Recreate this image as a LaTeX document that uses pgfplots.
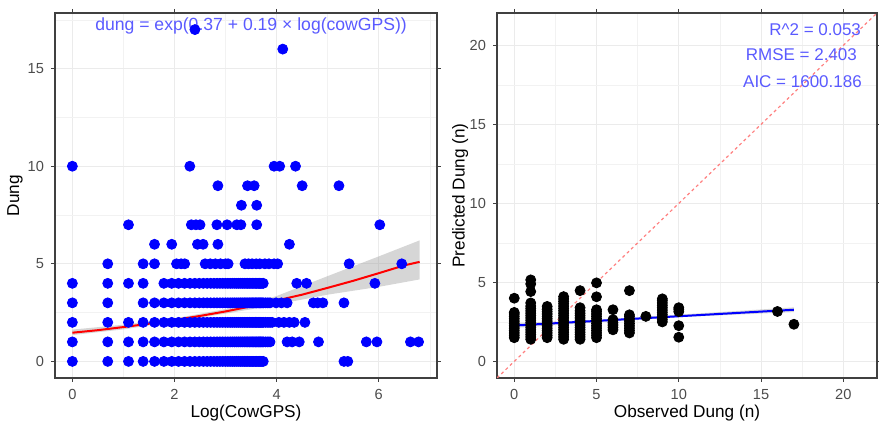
\documentclass[border=0pt]{standalone}
\usepackage{fontspec}
\setmainfont{Liberation Sans}
\usepackage{pgfplots}
\pgfplotsset{compat=1.18}
\definecolor{txtblue}{RGB}{90,90,255}
\definecolor{diag}{RGB}{255,128,128}
\definecolor{band}{RGB}{153,153,153}
\pgfplotsset{
  gg/.style={
    scale only axis,
    axis line style={draw=black!75, line width=0.6pt},
    tick align=outside, major tick length=2pt, minor tick length=0pt,
    tick style={black!75, line width=0.4pt},
    grid=both,
    major grid style={black!8, line width=0.5pt},
    minor grid style={black!5, line width=0.3pt},
    ticklabel style={font=\fontsize{7.3}{8}\selectfont, text=black!70},
    label style={font=\fontsize{8.6}{10}\selectfont},
    /pgf/number format/assume math mode=true,
    height=182.5pt,
  },
  pts/.style={only marks, mark=*, mark size=2.5pt},
}
\begin{document}
\begin{tikzpicture}
\useasboundingbox (-27.5pt,-22.5pt) rectangle (412pt,189pt);
% left panel
\begin{axis}[gg, width=191pt, at={(0pt,0pt)},
  xmin=-0.34, xmax=7.14, ymin=-0.85, ymax=17.85,
  xtick={0,2,4,6}, ytick={0,5,10,15},
  minor xtick={1,3,5,7}, minor ytick={2.5,7.5,12.5,17.5},
  xlabel={Log(CowGPS)}, ylabel={Dung},
  xlabel style={at={(axis description cs:0.5,-0.096)}, anchor=center},
  ylabel style={at={(axis description cs:-0.105,0.5)}, anchor=center},
]
\addplot[pts, blue] coordinates {
 (0,0) (0.693,0) (1.099,0) (1.386,0) (1.609,0) (1.792,0) (1.946,0) (2.079,0) (2.197,0) (2.303,0) (2.398,0) (2.485,0) (2.565,0) (2.639,0) (2.708,0) (2.773,0) (2.833,0) (2.890,0) (2.944,0) (2.996,0) (3.045,0) (3.091,0) (3.135,0) (3.178,0) (3.219,0) (3.258,0) (3.296,0) (3.332,0) (3.367,0) (3.401,0) (3.434,0) (3.466,0) (3.497,0) (3.526,0) (3.555,0) (3.584,0) (3.611,0) (3.638,0) (3.664,0) (3.689,0) (3.714,0) (3.738,0) (5.318,0) (5.394,0)
 (0,1) (0.693,1) (1.099,1) (1.386,1) (1.609,1) (1.792,1) (1.946,1) (2.079,1) (2.197,1) (2.303,1) (2.398,1) (2.485,1) (2.565,1) (2.639,1) (2.708,1) (2.773,1) (2.833,1) (2.890,1) (2.944,1) (2.996,1) (3.045,1) (3.091,1) (3.135,1) (3.178,1) (3.219,1) (3.258,1) (3.296,1) (3.332,1) (3.367,1) (3.401,1) (3.434,1) (3.466,1) (3.497,1) (3.526,1) (3.555,1) (3.584,1) (3.611,1) (3.638,1) (3.664,1) (3.689,1) (3.714,1) (3.738,1) (3.784,1) (3.829,1) (3.871,1) (4.205,1) (4.304,1) (4.443,1) (4.820,1) (5.756,1) (5.964,1) (6.620,1) (6.780,1)
 (0,2) (0.693,2) (1.099,2) (1.386,2) (1.609,2) (1.792,2) (1.946,2) (2.079,2) (2.197,2) (2.303,2) (2.398,2) (2.485,2) (2.565,2) (2.639,2) (2.708,2) (2.773,2) (2.833,2) (2.890,2) (2.944,2) (2.996,2) (3.045,2) (3.091,2) (3.135,2) (3.178,2) (3.219,2) (3.258,2) (3.296,2) (3.332,2) (3.367,2) (3.401,2) (3.434,2) (3.466,2) (3.497,2) (3.526,2) (3.555,2) (3.584,2) (3.611,2) (3.638,2) (3.664,2) (3.689,2) (3.714,2) (3.738,2) (3.784,2) (3.829,2) (3.871,2) (3.912,2) (4.043,2) (4.143,2) (4.248,2) (4.344,2) (4.554,2)
 (0,3) (0.693,3) (1.386,3) (1.609,3) (1.792,3) (1.946,3) (2.079,3) (2.197,3) (2.303,3) (2.398,3) (2.485,3) (2.565,3) (2.639,3) (2.708,3) (2.773,3) (2.833,3) (2.890,3) (2.944,3) (2.996,3) (3.045,3) (3.091,3) (3.135,3) (3.178,3) (3.219,3) (3.258,3) (3.296,3) (3.332,3) (3.367,3) (3.401,3) (3.434,3) (3.466,3) (3.497,3) (3.526,3) (3.555,3) (3.584,3) (3.611,3) (3.638,3) (3.664,3) (3.689,3) (3.714,3) (3.738,3) (3.784,3) (3.829,3) (3.871,3) (3.989,3) (4.094,3) (4.205,3) (4.718,3) (4.804,3) (4.905,3) (5.318,3)
 (0,4) (0.693,4) (1.099,4) (1.386,4) (1.792,4) (1.946,4) (2.079,4) (2.197,4) (2.303,4) (2.398,4) (2.485,4) (2.565,4) (2.639,4) (2.708,4) (2.773,4) (2.833,4) (2.890,4) (2.944,4) (2.996,4) (3.045,4) (3.091,4) (3.135,4) (3.178,4) (3.219,4) (3.258,4) (3.296,4) (3.332,4) (3.367,4) (3.401,4) (3.434,4) (3.466,4) (3.497,4) (3.526,4) (3.555,4) (3.584,4) (3.611,4) (3.638,4) (3.664,4) (3.689,4) (3.714,4) (3.738,4) (4.394,4) (4.585,4) (5.924,4)
 (0.693,5) (1.386,5) (1.609,5) (2.04,5) (2.13,5) (2.2,5) (2.6,5) (2.7,5) (2.8,5) (2.9,5) (3.0,5) (3.05,5) (3.38,5) (3.45,5) (3.52,5) (3.6,5) (3.67,5) (3.77,5) (3.85,5) (3.95,5) (4.02,5) (5.42,5) (6.45,5)
 (1.609,6) (1.946,6) (2.45,6) (2.56,6) (2.85,6) (4.25,6)
 (1.099,7) (2.33,7) (2.42,7) (2.5,7) (2.83,7) (3.03,7) (3.22,7) (3.3,7) (3.61,7) (6.02,7)
 (3.31,8) (3.61,8)
 (2.85,9) (3.43,9) (3.56,9) (4.5,9) (5.22,9)
 (0,10) (2.3,10) (3.95,10) (4.06,10) (4.37,10)
 (4.12,16) (2.4,17)
};
\addplot[draw=none, fill=band, fill opacity=0.4] coordinates {
 (0,1.63) (1,1.88) (2,2.2) (3,2.68) (3.5,2.98) (4,3.35) (5,4.37) (6,5.38) (6.8,6.2)
 (6.8,4.2) (6,3.82) (5,3.42) (4,2.92) (3.5,2.67) (3,2.45) (2,2.04) (1,1.64) (0,1.35)
} -- cycle;
\addplot[red, line width=1pt] coordinates {
 (0,1.47) (0.5,1.6) (1,1.76) (1.5,1.93) (2,2.12) (2.5,2.33) (3,2.56) (3.5,2.82) (4,3.12) (4.5,3.42) (5,3.77) (5.5,4.13) (6,4.52) (6.5,4.92) (6.8,5.1)
};
\node[txtblue, inner sep=0pt, font=\fontsize{8.8}{10}\selectfont] at (axis cs:3.5,17.2) {dung = exp(0.37 + 0.19 × log(cowGPS))};
\end{axis}
% right panel
\begin{axis}[gg, width=190pt, at={(221pt,0pt)},
  xmin=-1.05, xmax=22.05, ymin=-1.05, ymax=22.05,
  xtick={0,5,10,15,20}, ytick={0,5,10,15,20},
  minor xtick={2.5,7.5,12.5,17.5}, minor ytick={2.5,7.5,12.5,17.5},
  xlabel={Observed Dung (n)}, ylabel={Predicted Dung (n)},
  xlabel style={at={(axis description cs:0.5,-0.096)}, anchor=center},
  ylabel style={at={(axis description cs:-0.097,0.5)}, anchor=center},
]
\addplot[pts, black] coordinates {
 (0,4.0) (0,1.5) (0,1.65) (0,1.8) (0,1.95) (0,2.1) (0,2.25) (0,2.4) (0,2.55) (0,2.7) (0,2.85) (0,3.0) (0,3.1)
 (1,5.16) (1,4.9) (1,4.42) (1,1.4) (1,1.55) (1,1.7) (1,1.85) (1,2.0) (1,2.15) (1,2.3) (1,2.45) (1,2.6) (1,2.75) (1,2.9) (1,3.05) (1,3.2) (1,3.35) (1,3.5) (1,3.7)
 (2,1.5) (2,1.65) (2,1.8) (2,1.95) (2,2.1) (2,2.25) (2,2.4) (2,2.55) (2,2.7) (2,2.85) (2,3.0) (2,3.15) (2,3.3) (2,3.48)
 (3,1.4) (3,1.55) (3,1.7) (3,1.85) (3,2.0) (3,2.15) (3,2.3) (3,2.45) (3,2.6) (3,2.75) (3,2.9) (3,3.05) (3,3.2) (3,3.35) (3,3.5) (3,3.65) (3,3.8) (3,3.95) (3,4.1)
 (4,4.48) (4,1.4) (4,1.55) (4,1.7) (4,1.85) (4,2.0) (4,2.15) (4,2.3) (4,2.45) (4,2.6) (4,2.75) (4,2.9) (4,3.05) (4,3.2) (4,3.4)
 (5,4.97) (5,4.09) (5,1.5) (5,1.65) (5,1.8) (5,1.95) (5,2.1) (5,2.25) (5,2.4) (5,2.55) (5,2.7) (5,2.85) (5,3.0) (5,3.15) (5,3.27)
 (6,2.0) (6,2.15) (6,2.3) (6,2.45) (6,2.64) (6,3.27)
 (7,4.48) (7,1.8) (7,1.95) (7,2.1) (7,2.25) (7,2.4) (7,2.55) (7,2.7) (7,2.85) (7,2.95)
 (8,2.85)
 (9,2.5) (9,2.65) (9,2.8) (9,2.95) (9,3.1) (9,3.25) (9,3.4) (9,3.55) (9,3.7) (9,3.85) (9,3.96)
 (10,1.53) (10,2.26) (10,3.15) (10,3.3) (10,3.4)
 (16,3.16) (17,2.35)
};
\addplot[diag, dash pattern=on 1.5pt off 1.5pt, line width=0.6pt] coordinates {(-1.05,-1.05) (22.05,22.05)};
\addplot[draw=none, fill=band, fill opacity=0.4] coordinates {
 (0,2.12) (5,2.47) (10,2.8) (17,3.12) (17,3.42) (10,2.96) (5,2.62) (0,2.42)
} -- cycle;
\addplot[blue, line width=1pt] coordinates {(0,2.27) (17,3.27)};
\node[txtblue, anchor=east, inner sep=0pt, font=\fontsize{8.5}{10}\selectfont] at (axis cs:21.1,21.0) {R\textasciicircum 2 = 0.053};
\node[txtblue, anchor=east, inner sep=0pt, font=\fontsize{8.5}{10}\selectfont] at (axis cs:20.85,19.43) {RMSE = 2.403};
\node[txtblue, anchor=east, inner sep=0pt, font=\fontsize{8.5}{10}\selectfont] at (axis cs:21.15,17.7) {AIC = 1600.186};
\end{axis}
\end{tikzpicture}
\end{document}
